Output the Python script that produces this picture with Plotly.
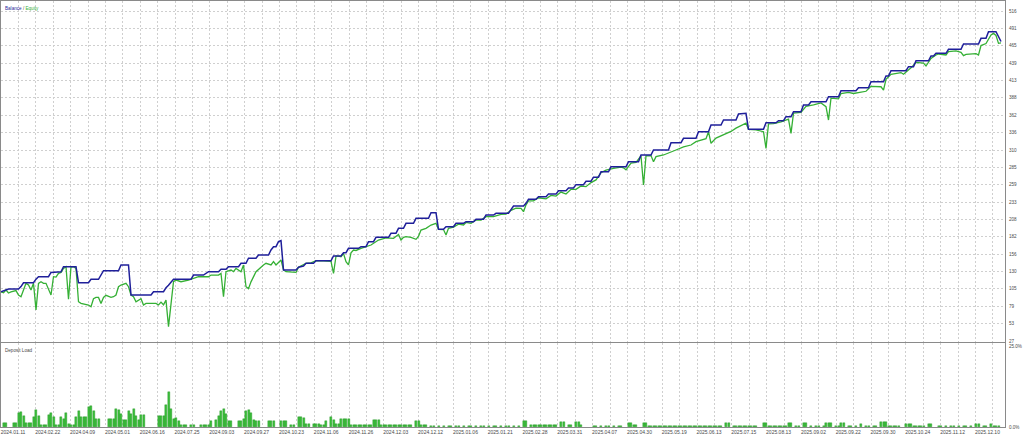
import plotly.graph_objects as go

# ---------------- data (deal index -> value) ----------------
bal_deal = [0,2,3,7,8,9,13,14,15,19,20,24,25,30,31,35,36,39,40,41,47,48,51,52,60,61,65,66,67,68,69,76,77,81,82,83,87,88,90,91,95,96,98,99,102,103,107,108,109,110,111,112,113,118,119,121,122,125,126,132,133,136,137,138,139,143,144,146,147,149,150,155,156,158,159,161,162,165,166,171,172,174,175,177,178,181,182,185,186,189,190,193,194,197,198,203,204,205,209,210,211,214,215,218,219,222,223,226,227,229,230,233,234,236,237,239,240,243,244,250,251,255,256,260,261,267,268,272,273,278,279,283,284,288,289,294,295,298,299,305,306,310,311,313,314,316,317,320,321,323,324,330,331,335,336,342,343,347,348,353,354,355,356,362,363,365,366,371,372,373,374,378,379,384,385,391,392,394,395,398,400]
balance = [100.4,103,104.5,104.5,108,113.7,113.7,119,122.6,122.6,129,130,137.4,137.4,113.7,113.7,118.8,118.8,125,131.5,131.5,140,140,95.5,95.5,100.4,100.4,106.3,110,113.7,118.8,118.8,125,125,127.6,130,130,133.6,133.6,137.4,137.4,142.5,142.5,150,150,154.8,154.8,162.2,167.1,167.1,174.5,176,132.6,132.6,136.6,138.5,142.5,142.5,146.3,146.3,153.3,153.3,158.2,158.2,164.7,164.7,167.1,167.1,174.5,174.5,181,181,186.9,186.9,194.3,194.3,201.7,201.7,209.1,209.1,217.4,217.4,192.8,192.8,196.7,196.7,201.7,201.7,204.1,204.1,207.6,207.6,214,214,216.5,216.5,222,227.3,227.3,231.3,237.3,237.3,241,241,245,245,250,250,254,254,259,259,264,264,270,270,278,278,285.5,285.5,293,293,302.9,302.9,310.3,310.3,321.1,321.1,327.6,327.6,337.4,337.4,347.3,347.3,354.7,354.7,363.6,364.6,340.9,340.9,350.7,350.7,353.7,353.7,359.6,359.6,367,367,376.9,376.9,381.8,381.8,389.2,389.2,398.1,398.1,402.5,402.5,411.4,411.4,419.9,419.9,427.7,427.7,433.7,433.7,442.5,442.5,449.5,449.5,453.5,453.5,459.4,459.4,467.3,467.3,475.7,475.7,485.5,485.5,471]

eq_deal = [0,1,2,3,4,6,7,8,9,10,11,12,13,14,15,16,17,18,20,21,22,23,24,25,26,27,28,29,30,31,32,35,36,37,38,39,40,41,42,43,44,45,46,47,48,50,51,52,53,54,56,57,58,60,62,63,64,65,66,67,68,69,70,72,75,77,79,83,84,87,88,89,90,92,93,94,96,97,98,99,100,102,104,105,106,108,109,110,112,113,114,118,119,120,122,124,126,129,132,133,134,135,136,137,138,139,140,141,142,144,146,148,151,154,157,159,160,161,162,164,166,167,168,170,172,174,175,177,178,179,181,183,185,186,188,190,192,194,197,200,202,204,206,208,209,210,211,213,215,218,220,222,224,226,228,230,232,234,236,238,240,242,245,248,249,250,252,254,256,257,258,260,261,262,265,268,270,273,276,278,282,283,284,286,289,292,294,297,298,299,302,305,306,307,309,312,315,316,317,320,322,325,328,330,331,332,333,335,336,339,341,343,344,346,348,352,353,354,356,360,361,364,366,369,370,372,374,375,378,379,382,384,385,386,390,391,392,394,396,397,398,399,400]
equity = [100.4,99,102.9,98.5,100,102,95.5,93,103,112.8,110.3,103,112.8,73.3,112.8,115.2,112.8,112.8,95.5,122.6,122,127.6,129,135,137.4,89.2,137.4,137.4,135,85.6,83.1,80.7,78.2,90,92,92,83.1,92,95,93,92,93,95.5,107.8,110.3,112.8,107.8,95.5,93,85.6,90,80.7,83.1,83.1,83.1,80.7,85,81,88,48.6,85.6,115.2,117.7,115.2,117.7,120.2,122.6,122.6,125.1,125.1,127.6,93,130,132.5,130,135,130,140,107.8,105,115,130,137.4,140,142.5,140,144.9,140,147.4,132.6,130,129,136.6,138.5,142.5,143,146.3,146.3,145.5,127.6,153,153,152,157,144.9,140,158,162.2,161.5,164.7,167,169.6,177,180,179.5,185,177,181,182,181,178,182.5,191.8,194.3,199.2,201.7,192.8,192.5,184.4,194.3,196,200.5,199.2,203,201.7,206.6,206.5,211.6,211.6,215,215.5,221,224,223.9,218.9,229,235,235,239.5,238,243,242,248,245,252,252,257,256,262,266,276.7,280.4,283.1,285,284,281,291,292,301.5,258.4,301.5,302,293,300.4,302.9,307.9,310.3,315,317.7,322.7,327,337.4,320.2,328,332.9,337.8,342.7,347.6,350,340.9,340,337.4,312.8,349,349.5,352,356,335,365,366,375,377,380,374.4,354.7,387,387,386,394,395.6,394,395.6,396.5,397.3,404.6,404,399.1,415,422.5,425,422.5,432,440,439,434.7,446,451,452.5,451,456,457,455,450,452,453,451,465,468,480.6,483,480,468.3,469]

load_deal = [1,2,5,6,7,8,9,10,11,12,13,14,15,16,17,18,19,20,21,22,23,24,25,26,27,28,29,30,31,32,33,34,35,36,37,38,39,43,44,45,46,47,48,49,50,51,52,53,54,55,56,57,63,64,65,66,67,68,69,70,71,72,73,74,76,77,80,81,82,83,84,86,87,88,89,90,91,92,95,96,97,98,99,100,101,102,103,107,108,109,112,113,114,116,117,119,120,121,122,123,125,126,127,128,129,130,132,133,134,135,136,137,138,139,
             140,141,142,143,144,145,146,147,148,149,150,151,152,153,154,155,156,157,158,159,160,161,162,163,164,166,167,168,169,170,172,173,175,177,179,180,182,183,185,187,188,190,192,193,195,197,198,200,202,203,205,207,209,210,
             212,213,214,215,216,217,218,219,220,221,222,224,225,227,228,230,231,232,237,238,240,242,243,245,247,248,251,252,253,254,257,258,
             259,260,261,262,263,264,265,266,267,268,269,270,271,272,273,274,275,276,277,278,279,280,281,282,283,284,285,286,287,288,290,291,
             293,294,295,296,297,298,299,300,301,302,305,306,307,308,309,310,311,312,313,314,315,316,318,319,321,322,324,326,327,329,330,331,332,334,335,336,337,
             339,340,342,344,346,347,349,350,352,353,354,355,356,357,358,359,362,363,364,365,366,367,368,369,371,372,375,376,378,380,381,383,385,386,388,390,391,393,394,396,397,398,399]
load_pct = [1.3,1.3,1.3,1.3,4.2,4.5,3.4,1.3,1.3,1.3,3.0,5.3,3.3,0.7,0.7,0.7,3.6,4.3,3.0,0.7,0.7,3.0,2.6,4.3,0.8,0.7,0.7,3.0,4.8,3.0,3.0,3.0,6.3,6.5,4.9,2.6,2.6,2.6,2.6,2.6,5.6,5.3,4.0,2.3,2.3,4.8,4.0,5.7,3.3,2.3,3.6,3.6,3.3,3.3,3.3,6.9,10.7,5.7,2.6,2.8,2.0,0.7,0.7,0.7,0.7,0.7,0.7,0.7,0.7,0.7,2.0,2.3,3.3,4.8,5.7,4.0,2.0,2.0,2.0,2.0,2.6,4.8,5.3,4.3,2.3,2.0,2.0,1.8,1.8,1.8,1.8,1.8,1.8,0.7,0.7,3.0,3.0,2.8,0.8,0.8,0.8,0.8,0.8,0.7,0.7,1.8,3.0,2.3,0.8,0.8,2.6,2.6,2.6,2.6,
            0.5,0.5,0.5,0.5,0.5,0.5,0.5,0.5,0.5,2.3,2.3,2.3,0.5,0.5,0.5,0.5,0.5,0.5,0.5,0.5,0.5,0.5,0.5,0.5,0.5,2.0,2.0,0.6,0.6,0.6,0.3,0.3,0.3,0.3,0.3,0.3,0.3,0.3,0.3,0.3,0.3,0.3,0.3,0.3,0.3,0.3,0.3,0.3,0.3,0.3,0.3,0.3,1.8,1.8,
            0.5,0.5,0.5,0.5,0.5,0.5,0.5,0.5,0.5,0.5,0.5,1.6,1.6,0.5,0.5,1.6,1.6,0.5,0.3,0.3,0.3,0.3,0.3,0.3,0.3,0.3,1.3,1.3,0.5,0.5,1.3,1.3,
            0.3,0.3,0.3,0.3,0.3,0.3,0.3,0.3,0.3,0.3,0.3,0.3,0.3,0.3,0.3,0.3,0.3,0.3,0.3,0.3,0.3,0.3,0.3,0.3,0.3,0.3,0.3,0.3,0.3,0.3,1.3,1.3,
            0.3,0.3,0.3,0.3,0.3,0.3,0.3,0.3,0.3,0.3,1.3,1.3,0.3,0.3,0.3,0.3,0.3,0.3,0.3,0.3,1.3,1.3,0.3,0.3,1.1,1.1,0.3,0.3,0.3,0.3,1.2,1.2,1.2,0.3,0.3,1.2,1.2,
            0.3,0.3,0.3,0.8,0.3,0.3,0.3,0.3,1.5,1.5,1.5,0.3,0.3,0.3,0.3,0.3,1.0,1.0,1.0,0.3,0.3,0.3,0.3,0.3,1.0,1.0,0.3,0.3,0.3,0.3,0.3,0.3,0.3,0.3,0.3,0.8,0.8,0.3,0.3,0.8,0.3,0.3,0.3]

date_labels = ["2024.01.11","2024.02.22","2024.04.09","2024.05.01","2024.06.16","2024.07.25",
               "2024.09.03","2024.09.27","2024.10.23","2024.11.06","2024.11.26","2024.12.03",
               "2024.12.12","2025.01.06","2025.01.21","2025.02.28","2025.03.31","2025.04.07",
               "2025.04.30","2025.05.19","2025.06.13","2025.07.15","2025.08.13","2025.09.02",
               "2025.09.22","2025.09.30","2025.10.24","2025.11.12","2025.12.10"]
y_labels = ["27","53","79","105","130","156","182","208","233","259","285","310","336",
            "362","388","413","439","465","491","516"]
load_labels = ["0.0%", "25.0%"]

# ---------------- styling ----------------
BAL_C = "#1f1f9a"
EQ_C = "#35b035"
GRID_C = "#cfcfcf"
AX_C = "#8a8a8a"
TXT_C = "#4a4a4a"
FONT = "Liberation Sans"

GRID_STEP = 6.96  # deals between vertical grid lines
x_grid = [GRID_STEP * k for k in range(58)]
x_text = [date_labels[k // 2] if k % 2 == 0 else "" for k in range(58)]

fig = go.Figure()
fig.add_trace(go.Scatter(x=eq_deal, y=equity, mode="lines",
                         line=dict(color=EQ_C, width=1.3), xaxis="x", yaxis="y",
                         showlegend=False))
fig.add_trace(go.Scatter(x=bal_deal, y=balance, mode="lines",
                         line=dict(color=BAL_C, width=1.5), xaxis="x", yaxis="y",
                         showlegend=False))
fig.add_trace(go.Bar(x=load_deal, y=load_pct, width=0.8,
                     marker=dict(color="#3cbf3c", line=dict(color="#1f8f1f", width=0.4)),
                     xaxis="x2", yaxis="y2", showlegend=False))

XR = [0, 401.6]
common_x = dict(range=XR, tickmode="array", tickvals=x_grid, showgrid=True,
                gridcolor=GRID_C, griddash="2px,2px", gridwidth=1, zeroline=False,
                showline=True, mirror=True, linecolor=AX_C, linewidth=1, ticks="")

fig.update_layout(
    width=1024, height=434,
    margin=dict(l=1, r=19, t=1, b=7, autoexpand=False),
    paper_bgcolor="white", plot_bgcolor="white",
    font=dict(family=FONT, size=5, color=TXT_C),
    bargap=0,
    xaxis=dict(**common_x, domain=[0, 1], anchor="y", ticktext=x_text, showticklabels=False),
    xaxis2=dict(**common_x, domain=[0, 1], anchor="y2", ticktext=x_text, showticklabels=True,
                tickfont=dict(family=FONT, size=5, color=TXT_C), ticklabelshift=12,
                ticklabelstandoff=0, ticklabeloverflow="allow"),
    yaxis=dict(domain=[0.1995, 1], range=[25.9, 531], side="right", anchor="x",
               tickmode="array", tickvals=[float(v) for v in y_labels], ticktext=y_labels,
               showgrid=True, gridcolor=GRID_C, griddash="2px,2px", zeroline=False,
               showline=True, mirror=True, linecolor=AX_C, linewidth=1, ticks="",
               tickfont=dict(family=FONT, size=4.6, color=TXT_C), ticklabelstandoff=2),
    yaxis2=dict(domain=[0, 0.1972], range=[0, 25.9], side="right", anchor="x2",
                tickmode="array", tickvals=[0, 25], ticktext=load_labels,
                showgrid=False, zeroline=False, showline=True, mirror=True,
                linecolor=AX_C, linewidth=1, ticks="",
                tickfont=dict(family=FONT, size=4.6, color=TXT_C), ticklabelstandoff=2),
)

fig.add_annotation(xref="paper", yref="paper", x=0, y=1, xanchor="left", yanchor="top",
                   xshift=2, yshift=-3, showarrow=False,
                   text=f"<span style='color:{BAL_C}'>Balance</span> / <span style='color:{EQ_C}'>Equity</span>",
                   font=dict(family=FONT, size=4.6, color=TXT_C))
fig.add_annotation(xref="paper", yref="paper", x=0, y=0.1972, xanchor="left", yanchor="top",
                   xshift=2, yshift=-3, showarrow=False, text="Deposit Load",
                   font=dict(family=FONT, size=4.6, color=TXT_C))

fig.write_html("out.html", config={"displayModeBar": False},
               post_script="document.body.style.margin='0';document.body.style.overflow='hidden';")
